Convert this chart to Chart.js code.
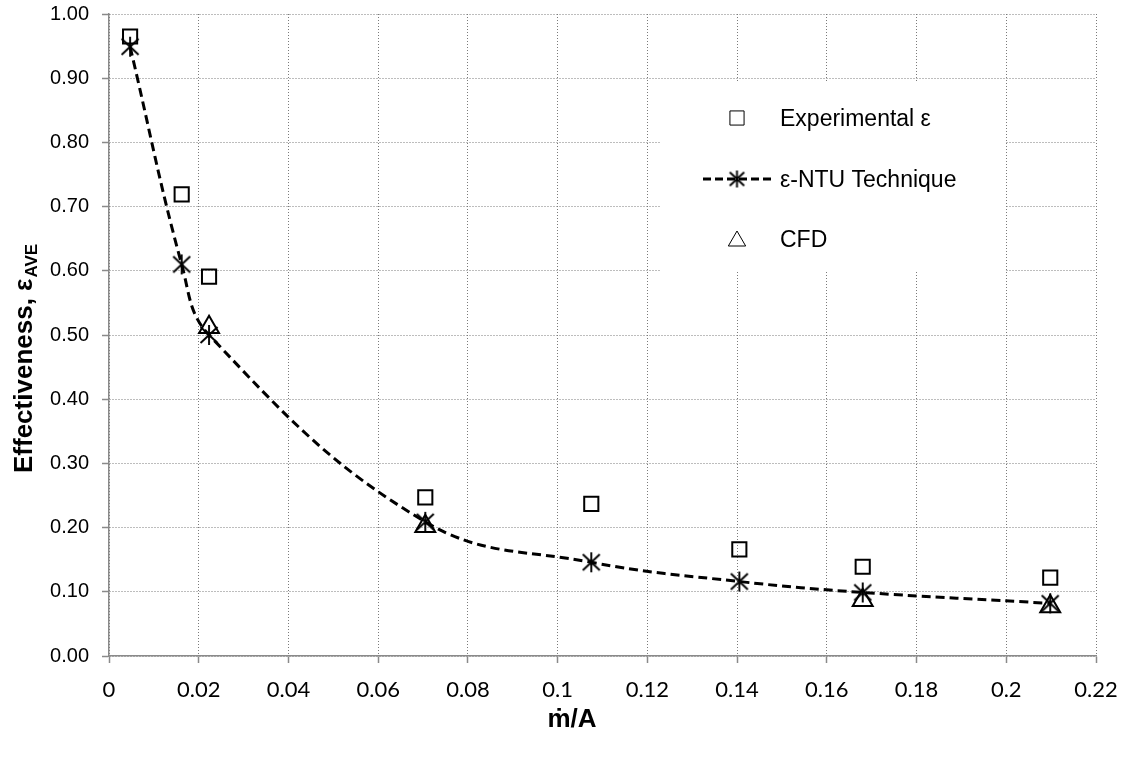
<!DOCTYPE html>
<html>
<head>
<meta charset="utf-8">
<script src="https://cdn.jsdelivr.net/npm/chart.js@4.4.0/dist/chart.umd.min.js"></script>
<style>
  html, body { margin: 0; padding: 0; background: #fff; }
  #wrap { width: 1128px; height: 757px; }
</style>
</head>
<body>
<div id="wrap"><canvas id="chart" width="1128" height="757"></canvas></div>
<script>
// mass flux per unit area (x) and effectiveness values
const massFlux      = [0.0047, 0.0162, 0.0223, 0.0705, 0.1075, 0.1405, 0.1680, 0.2098];
const experimental  = [0.965, 0.719, 0.591, 0.247, 0.237, 0.166, 0.139, 0.122];
const ntuTechnique  = [0.949, 0.610, 0.500, 0.209, 0.146, 0.116, 0.099, 0.082];
const cfdFlux       = [0.0223, 0.0705, 0.1680, 0.2098];
const cfd           = [0.512, 0.202, 0.087, 0.077];

const xTickValues = [0, 0.02, 0.04, 0.06, 0.08, 0.1, 0.12, 0.14, 0.16, 0.18, 0.2, 0.22];
const yTickValues = [0, 0.1, 0.2, 0.3, 0.4, 0.5, 0.6, 0.7, 0.8, 0.9, 1.0];

const legendLabels = ['Experimental \u03b5', '\u03b5-NTU Technique', 'CFD'];

const GRID = '#7a7a7a';
const AXIS = '#8a8a8a';

// Excel style asterisk marker: X with a vertical bar
function asterisk(r, lw) {
    const s = Math.ceil(2 * r + lw + 2);
    const c = document.createElement('canvas');
    c.width = c.height = s;
    const g = c.getContext('2d');
    const m = s / 2;
    g.strokeStyle = '#000';
    g.lineWidth = lw;
    g.beginPath();
    g.moveTo(m, m - r); g.lineTo(m, m + r);
    g.moveTo(m - r * 0.85, m - r * 0.8); g.lineTo(m + r * 0.85, m + r * 0.8);
    g.moveTo(m + r * 0.85, m - r * 0.8); g.lineTo(m - r * 0.85, m + r * 0.8);
    g.stroke();
    return c;
}
const starBig = asterisk(10, 1.9);
const starSmall = asterisk(8.5, 1.9);

const toPoints = (xs, ys) => xs.map((x, i) => ({ x: x, y: ys[i] }));

// legend drawn inside the plot on a white box, like the original
const legendBox = {
    id: 'legendBox',
    beforeDatasetsDraw(chart) {
        const ctx = chart.ctx;
        const a = chart.chartArea;
        const bx = a.left + 551, by = a.top + 67;
        ctx.save();
        ctx.fillStyle = '#fff';
        ctx.fillRect(bx, by, 345, 190);

        const mx = a.left + 628;
        const tx = a.left + 671;
        const rows = [a.top + 104, a.top + 165, a.top + 225];
        ctx.strokeStyle = '#000';
        ctx.fillStyle = 'rgba(0,0,0,0)';

        Chart.helpers.drawPoint(ctx, { pointStyle: 'rect', radius: 10, borderWidth: 2, rotation: 0 }, mx, rows[0]);

        ctx.save();
        ctx.lineWidth = 3;
        ctx.setLineDash([8, 4]);
        ctx.beginPath();
        ctx.moveTo(a.left + 594, rows[1]);
        ctx.lineTo(a.left + 663, rows[1]);
        ctx.stroke();
        ctx.restore();
        ctx.drawImage(starSmall, mx - starSmall.width / 2, rows[1] - starSmall.height / 2);

        ctx.strokeStyle = '#000';
        ctx.fillStyle = 'rgba(0,0,0,0)';
        Chart.helpers.drawPoint(ctx, { pointStyle: 'triangle', radius: 10, borderWidth: 2, rotation: 0 }, mx, rows[2] + 2);

        ctx.fillStyle = '#000';
        ctx.font = '23px "Liberation Sans", Arial, sans-serif';
        ctx.textAlign = 'left';
        ctx.textBaseline = 'alphabetic';
        legendLabels.forEach((t, i) => ctx.fillText(t, tx, rows[i] + 8));
        ctx.restore();
    }
};

// axis titles (the y title needs a subscript)
const axisTitles = {
    id: 'axisTitles',
    afterDraw(chart) {
        const ctx = chart.ctx;
        const a = chart.chartArea;
        ctx.save();
        ctx.fillStyle = '#000';
        ctx.textBaseline = 'alphabetic';

        ctx.font = 'bold 26px "Liberation Sans", Arial, sans-serif';
        ctx.textAlign = 'center';
        ctx.fillText('\u1e41/A', a.left + 463, 727);

        ctx.translate(32, 473);
        ctx.rotate(-Math.PI / 2);
        ctx.textAlign = 'left';
        const main = 'Effectiveness, \u03b5';
        ctx.font = 'bold 26px "Liberation Sans", Arial, sans-serif';
        ctx.fillText(main, 0, 0);
        const w = ctx.measureText(main).width;
        ctx.font = 'bold 17px "Liberation Sans", Arial, sans-serif';
        ctx.fillText('AVE', w + 1, 5);
        ctx.restore();
    }
};

new Chart(document.getElementById('chart'), {
    type: 'scatter',
    data: {
        datasets: [
            {
                label: legendLabels[0],
                data: toPoints(massFlux, experimental),
                showLine: false,
                pointStyle: 'rect',
                pointRadius: 10,
                pointBorderWidth: 2,
                pointBorderColor: '#000',
                pointBackgroundColor: 'rgba(0,0,0,0)'
            },
            {
                label: legendLabels[1],
                data: toPoints(massFlux, ntuTechnique),
                showLine: true,
                tension: 0.4,
                borderColor: '#000',
                borderWidth: 3,
                borderDash: [9, 5],
                pointStyle: starBig,
                pointRadius: 10
            },
            {
                label: legendLabels[2],
                data: toPoints(cfdFlux, cfd),
                showLine: false,
                pointStyle: 'triangle',
                pointRadius: 11.5,
                pointBorderWidth: 2,
                pointBorderColor: '#000',
                pointBackgroundColor: 'rgba(0,0,0,0)'
            }
        ]
    },
    options: {
        responsive: false,
        animation: false,
        events: [],
        layout: { padding: { top: 14, right: 32, bottom: 0, left: 0 } },
        plugins: {
            legend: { display: false },
            tooltip: { enabled: false }
        },
        scales: {
            x: {
                type: 'linear',
                min: 0,
                max: 0.22,
                afterFit: s => { s.height = 101; s.paddingLeft = 0; s.paddingRight = 0; },
                afterBuildTicks: s => { s.ticks = xTickValues.map(v => ({ value: v })); },
                ticks: {
                    color: '#000',
                    padding: 14,
                    maxRotation: 0,
                    autoSkip: false,
                    font: { family: 'Lato, "Open Sans", sans-serif', size: 22 },
                    callback: v => String(Number(v.toFixed(2)))
                },
                grid: {
                    color: GRID,
                    lineWidth: 1,
                    tickLength: 7,
                    tickColor: AXIS,
                    tickWidth: 1.5,
                    tickBorderDash: []
                },
                border: { color: AXIS, width: 1.5, dash: [1, 2] }
            },
            y: {
                type: 'linear',
                min: 0,
                max: 1,
                afterFit: s => { s.width = 109; s.paddingTop = 0; s.paddingBottom = 0; },
                afterBuildTicks: s => { s.ticks = yTickValues.map(v => ({ value: v })); },
                ticks: {
                    color: '#000',
                    padding: 13,
                    autoSkip: false,
                    font: { family: '"Liberation Sans", Arial, sans-serif', size: 20 },
                    callback: v => v.toFixed(2)
                },
                grid: {
                    color: GRID,
                    lineWidth: 1,
                    tickLength: 7,
                    tickColor: AXIS,
                    tickWidth: 1.5,
                    tickBorderDash: []
                },
                border: { color: AXIS, width: 1.5, dash: [1, 2] }
            }
        }
    },
    plugins: [legendBox, axisTitles]
});
</script>
</body>
</html>
